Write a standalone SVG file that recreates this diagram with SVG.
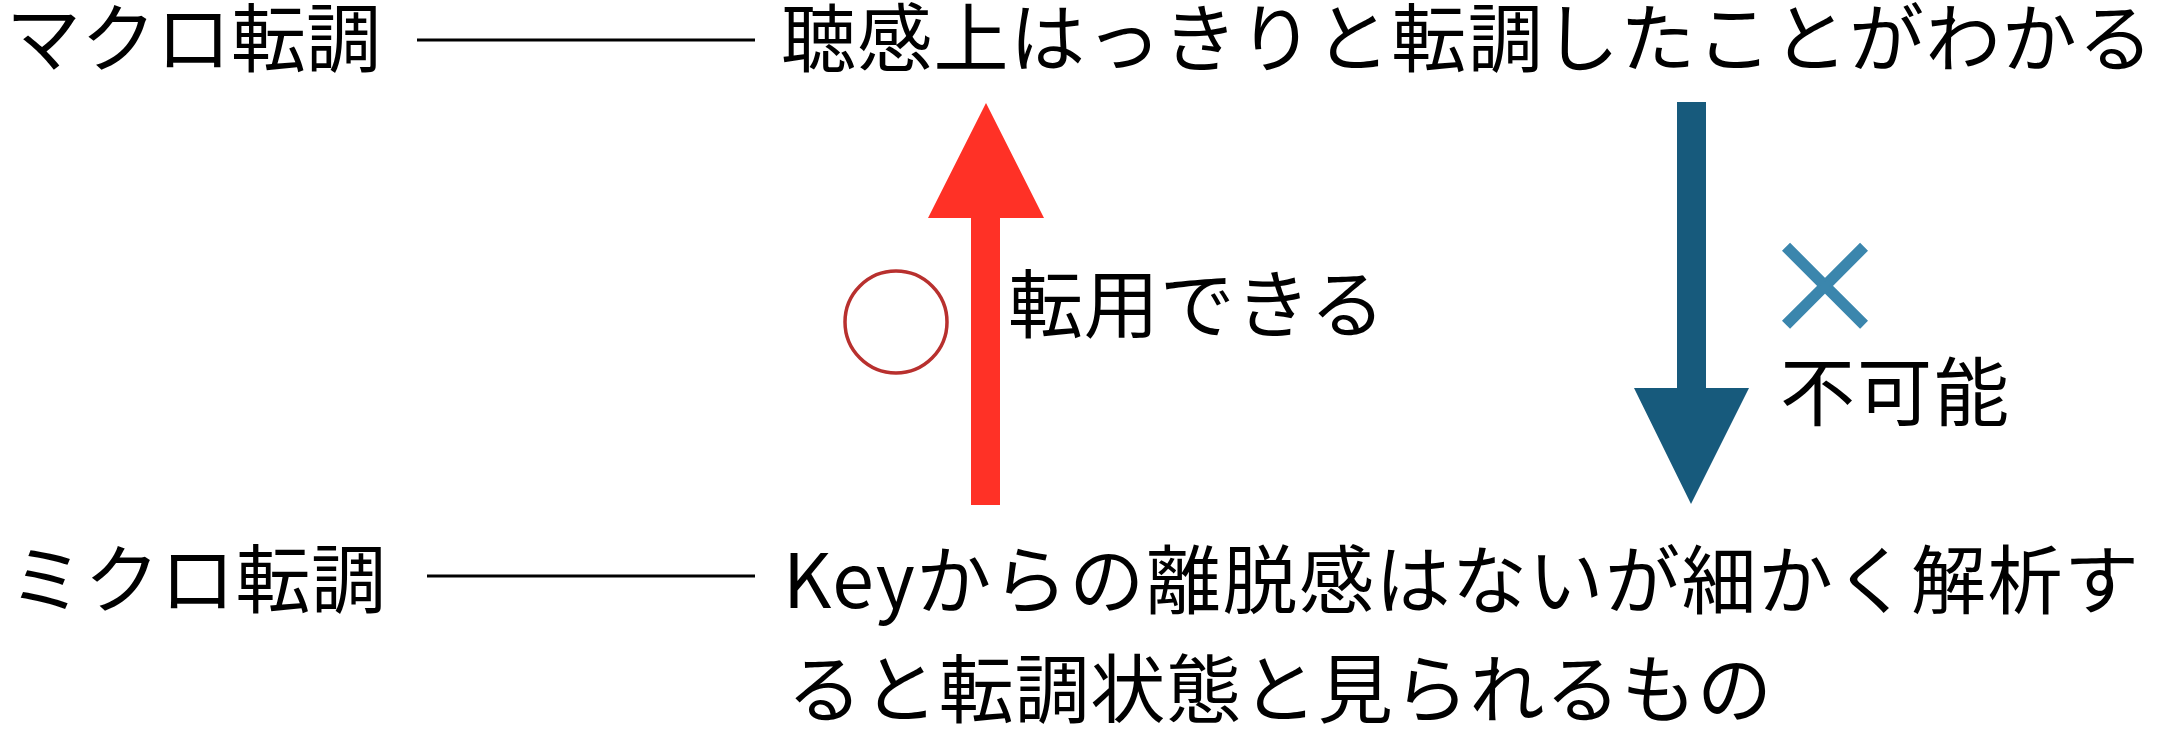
<svg xmlns="http://www.w3.org/2000/svg" width="2158" height="730" viewBox="0 0 2158 730">
<style>
.t{font-family:"Noto Sans CJK JP","Noto Sans",sans-serif;font-size:75px;fill:#000;}
.ln{stroke:#000;stroke-width:3;fill:none;}
</style>
<rect width="2158" height="730" fill="#fff"/>
<g id="macro-label"><text class="t" x="6" y="66" textLength="375" lengthAdjust="spacing">マクロ転調</text></g>
<g id="macro-desc"><text class="t" x="781" y="66" textLength="1372" lengthAdjust="spacing">聴感上はっきりと転調したことがわかる</text></g>
<g id="micro-label"><text class="t" x="9" y="607" textLength="377" lengthAdjust="spacing">ミクロ転調</text></g>
<g id="micro-desc">
<text class="t" x="783" y="608" textLength="1356" lengthAdjust="spacing">Keyからの離脱感はないが細かく解析す</text>
<text class="t" x="787" y="717" textLength="985" lengthAdjust="spacing">ると転調状態と見られるもの</text>
</g>
<g id="up-label">
<circle cx="896" cy="322" r="51" fill="none" stroke="#b8302e" stroke-width="3.5"/>
<text class="t" x="1008" y="332" textLength="377" lengthAdjust="spacing">転用できる</text>
</g>
<g id="down-label">
<text class="t" x="1761" y="334" style="fill:#3b86ad;stroke:#3b86ad;stroke-width:2.5;font-size:128px">×</text>
<text class="t" x="1780" y="420" textLength="229" lengthAdjust="spacing">不可能</text>
</g>
<g id="connectors">
<line class="ln" x1="417" y1="40" x2="755" y2="40"/>
<line class="ln" x1="427" y1="576" x2="755" y2="576"/>
<polygon fill="#ff3126" points="971,505 971,218 928,218 986,103 1044,218 1000,218 1000,505"/>
<polygon fill="#175a7c" points="1677,102 1706,102 1706,388 1749,388 1691,504 1634,388 1677,388"/>
</g>
</svg>
